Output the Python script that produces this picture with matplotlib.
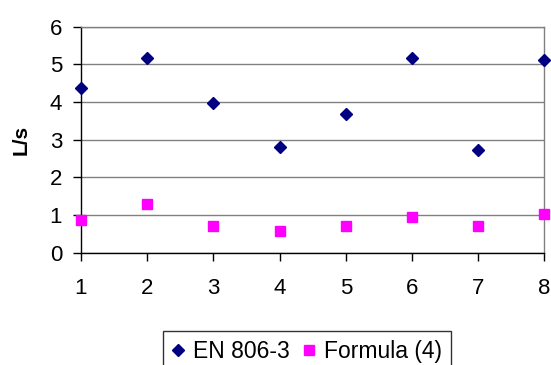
""" Flow rate comparison: EN 806-3 vs Formula (4) """
import matplotlib
matplotlib.use("Agg")
import matplotlib.pyplot as plt

cases = [1, 2, 3, 4, 5, 6, 7, 8]
en806 = [4.38, 5.18, 3.97, 2.82, 3.67, 5.18, 2.72, 5.12]
formula4 = [0.87, 1.28, 0.71, 0.57, 0.71, 0.96, 0.71, 1.03]
y_ticks = [0, 1, 2, 3, 4, 5, 6]


def main():
    """Draw the scatter chart"""
    plt.rcParams['font.family'] = ['Liberation Sans', 'DejaVu Sans']
    fig = plt.figure(figsize=(5.51, 3.65), dpi=100)
    ax = fig.add_axes([0.147, 0.3077, 0.841, 0.619])

    ax.plot(cases, en806, "D", color="#000080", markersize=6.6,
            linestyle="none", label="EN 806-3", clip_on=False, zorder=3)
    ax.plot(cases, formula4, "s", color="#FF00FF", markersize=7.6,
            linestyle="none", label="Formula (4)", clip_on=False, zorder=3)

    ax.set_xlim(1, 8)
    ax.set_ylim(0, 6)
    ax.set_xticks(cases)
    ax.set_yticks(y_ticks)
    ax.yaxis.grid(True, color="#808080", linewidth=1.0)
    ax.set_axisbelow(True)

    ax.spines['left'].set_color("black")
    ax.spines['bottom'].set_color("black")
    ax.spines['top'].set_color("#808080")
    ax.spines['right'].set_color("#808080")
    for side in ax.spines:
        ax.spines[side].set_linewidth(1.0)

    ax.tick_params(axis='both', labelsize=16, length=6, width=1.0,
                   color="black", direction="out")
    ax.tick_params(axis='x', pad=12.5)
    ax.tick_params(axis='y', pad=7.5)

    ax.set_ylabel("L/s", fontsize=15, fontweight="bold")
    ax.yaxis.set_label_coords(-0.108, 0.5)

    leg = fig.legend(loc="upper left", bbox_to_anchor=(0.2958, 0.0932),
                     borderaxespad=0, ncol=2,
                     fontsize=16.5, frameon=True, fancybox=False,
                     handlelength=0.5, handletextpad=0.42, columnspacing=0.57,
                     borderpad=0.4)
    leg.get_frame().set_edgecolor("black")
    leg.get_frame().set_linewidth(1.0)

    fig.savefig("out.png", dpi=100)


main()
